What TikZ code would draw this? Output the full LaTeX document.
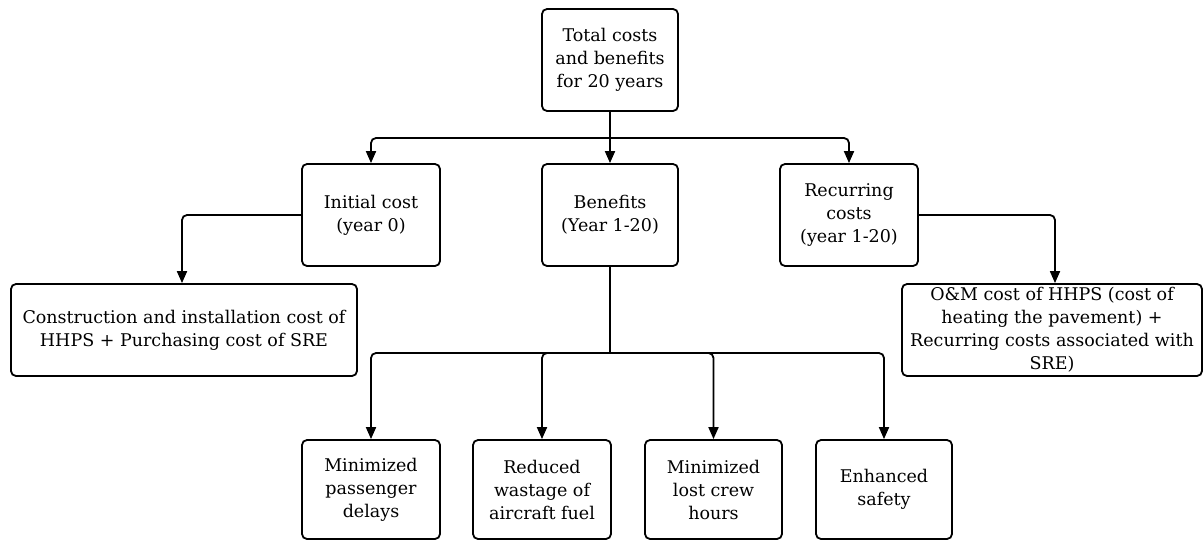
\documentclass[tikz,border=0pt]{standalone}
\usepackage{fontspec}
\setmainfont{DejaVu Serif}
\usetikzlibrary{arrows.meta}
\begin{document}
\begin{tikzpicture}[x=1pt,y=-1pt,
  box/.style={draw=black, line width=1.8pt, rounded corners=5pt, align=center,
    inner sep=0pt, font=\fontsize{17.5}{23}\selectfont, fill=white},
  conn/.style={line width=1.8pt, rounded corners=5pt, -{Triangle[length=12pt,width=10pt]}},
  plain/.style={line width=1.8pt, rounded corners=5pt}]
\useasboundingbox (0,0) rectangle (1203,541);
\node[box, minimum width=136pt, minimum height=102pt] (top) at (610,60) {Total costs\\and benefits\\for 20 years};
\node[box, minimum width=138pt, minimum height=102pt] (init) at (371,215) {Initial cost\\(year 0)};
\node[box, minimum width=136pt, minimum height=102pt] (ben) at (610,215) {Benefits\\(Year 1-20)};
\node[box, minimum width=138pt, minimum height=102pt] (rec) at (849,215) {Recurring\\costs\\(year 1-20)};
\node[box, minimum width=346pt, minimum height=92pt] (cons) at (184,330) {Construction and installation cost of\\HHPS + Purchasing cost of SRE};
\node[box, minimum width=300pt, minimum height=92pt] (om) at (1052,330) {O\&M cost of HHPS (cost of\\heating the pavement) +\\Recurring costs associated with\\SRE)};
\node[box, minimum width=138pt, minimum height=99pt] (b1) at (371,489.5) {Minimized\\passenger\\delays};
\node[box, minimum width=138pt, minimum height=99pt] (b2) at (542,489.5) {Reduced\\wastage of\\aircraft fuel};
\node[box, minimum width=137pt, minimum height=99pt] (b3) at (713.5,489.5) {Minimized\\lost crew\\hours};
\node[box, minimum width=136pt, minimum height=99pt] (b4) at (884,489.5) {Enhanced\\safety};
\coordinate (j1) at (610,138);
\coordinate (j2) at (610,353);
\draw[plain] (top.south) -- (j1);
\draw[conn] (j1) -| (init.north);
\draw[conn] (j1) -- (ben.north);
\draw[conn] (j1) -| (rec.north);
\draw[conn] (init.west) -| (cons.north -| 182,0);
\draw[conn] (rec.east) -| (om.north -| 1055,0);
\draw[plain] (ben.south) -- (j2);
\draw[conn] (j2) -| (b1.north);
\draw[conn] (j2) -| (b2.north);
\draw[conn] (j2) -| (b3.north);
\draw[conn] (j2) -| (b4.north);
\end{tikzpicture}
\end{document}
